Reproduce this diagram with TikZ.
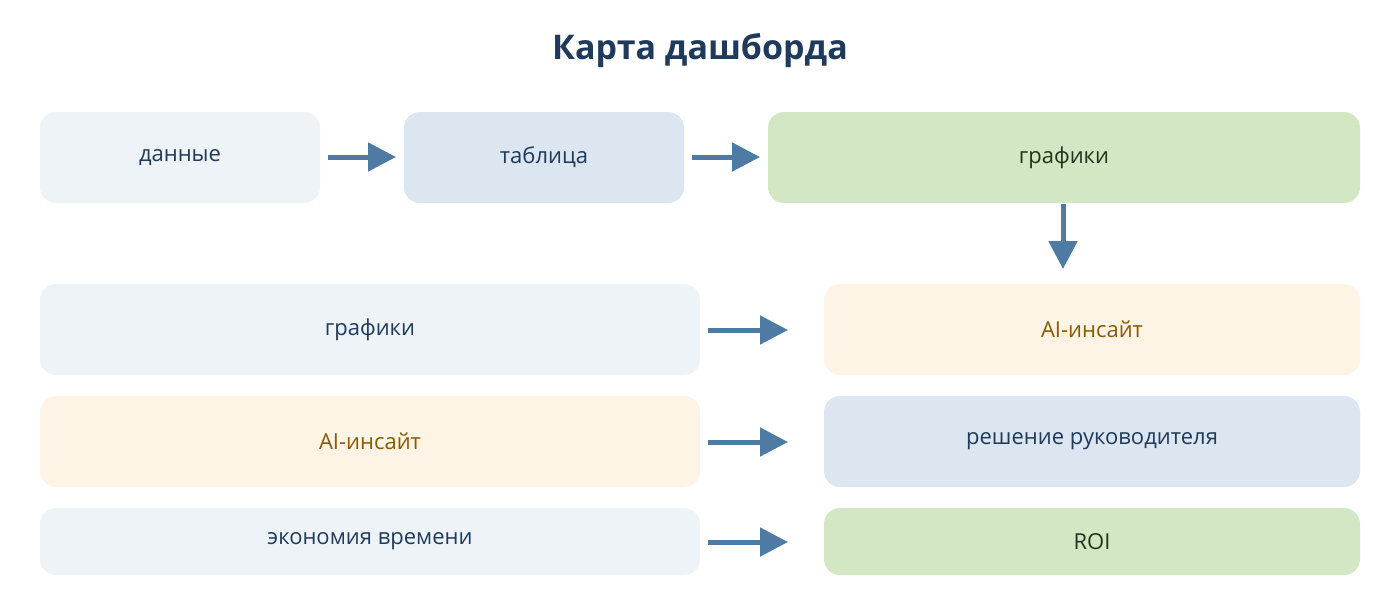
\documentclass[tikz,border=0pt]{standalone}
\usepackage{fontspec}
\setmainfont{Open Sans}
\usetikzlibrary{arrows.meta}
\definecolor{cLight}{HTML}{EEF3F8}
\definecolor{cBlue}{HTML}{DCE6F0}
\definecolor{cGreen}{HTML}{D3E7C4}
\definecolor{cCream}{HTML}{FDF4E5}
\definecolor{cText}{HTML}{1F3A5A}
\definecolor{cBrown}{HTML}{8A5A00}
\definecolor{cGText}{HTML}{24331A}
\definecolor{cArrow}{HTML}{4E7BA3}
\begin{document}
\begin{tikzpicture}[x=0.5pt,y=-0.5pt,
  box/.style={rounded corners=8pt,inner sep=0pt,font=\fontsize{11}{13}\selectfont,text=cText},
  arr/.style={draw=cArrow,line width=2.5pt,-{Triangle[width=14pt,length=14pt]}}]
\useasboundingbox[fill=white] (0,0) rectangle (1400,600);
\node[font=\bfseries\fontsize{17}{20}\selectfont,text=cText] (title) at (700,51) {Карта дашборда};
\newcommand\bx[7]{\path[box,fill=#5] (#2,#3) rectangle (#4,#6) node[pos=.5,text=#7] (#1) {};}
\path[box,fill=cLight] (40,112) rectangle (320,203) node[midway,text=cText] (a) {данные};
\path[box,fill=cBlue] (404,112) rectangle (684,203) node[midway,text=cText] (b) {таблица};
\path[box,fill=cGreen] (768,112) rectangle (1360,203) node[midway,text=cGText] (c) {графики};
\path[box,fill=cLight] (40,284) rectangle (700,375) node[midway,text=cText] (d) {графики};
\path[box,fill=cCream] (824,284) rectangle (1360,375) node[midway,text=cBrown] (e) {AI-инсайт};
\path[box,fill=cCream] (40,396) rectangle (700,487) node[midway,text=cBrown] (f) {AI-инсайт};
\path[box,fill=cBlue] (824,396) rectangle (1360,487) node[midway,text=cText] (g) {решение руководителя};
\path[box,fill=cLight] (40,508) rectangle (700,575) node[midway,text=cText] (h) {экономия времени};
\path[box,fill=cGreen] (824,508) rectangle (1360,575) node[midway,text=cGText] (i) {ROI};
\coordinate (a1) at (328,157); \coordinate (a2) at (396,157);
\coordinate (b1) at (692,157); \coordinate (b2) at (760,157);
\coordinate (c1) at (1063,204); \coordinate (c2) at (1063,269);
\coordinate (d1) at (708,330); \coordinate (d2) at (788,330);
\coordinate (f1) at (708,442); \coordinate (f2) at (788,442);
\coordinate (h1) at (708,542); \coordinate (h2) at (788,542);
\draw[arr] (a1) -- (a2);
\draw[arr] (b1) -- (b2);
\draw[arr] (c1) -- (c2);
\draw[arr] (d1) -- (d2);
\draw[arr] (f1) -- (f2);
\draw[arr] (h1) -- (h2);
\end{tikzpicture}
\end{document}
